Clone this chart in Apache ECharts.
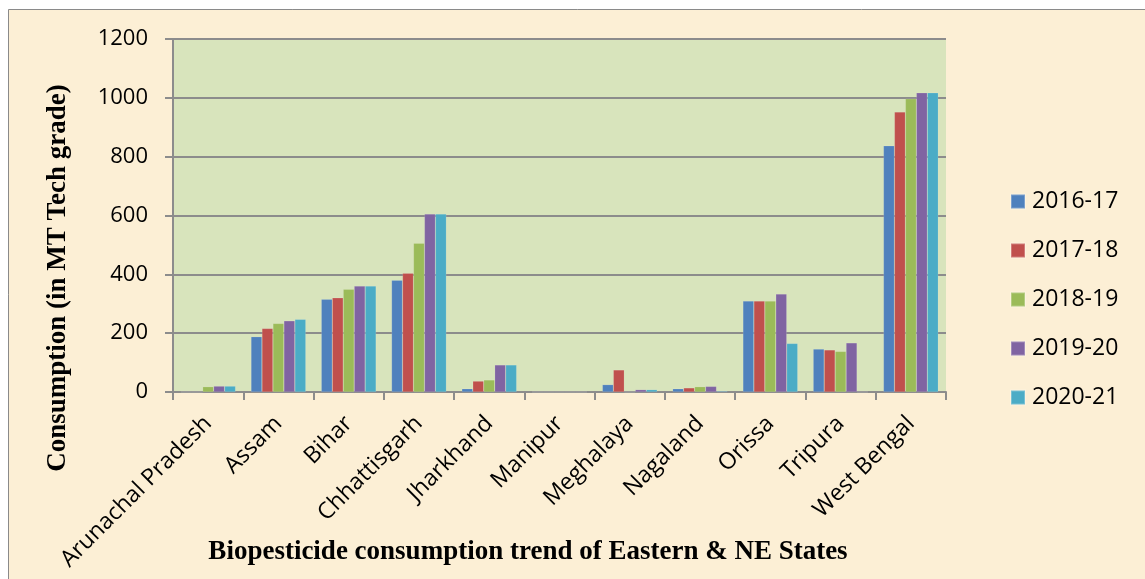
<!DOCTYPE html>
<html>
<head>
<meta charset="utf-8">
<script src="https://cdn.jsdelivr.net/npm/echarts@6/dist/echarts.min.js"></script>
<style>
  html, body { margin: 0; padding: 0; background: #ffffff; }
  #chart { width: 1145px; height: 579px; }
</style>
</head>
<body>
<div id="chart"></div>
<script>
// Biopesticide consumption (MT technical grade), Eastern & NE states
const states = ['Arunachal Pradesh', 'Assam', 'Bihar', 'Chhattisgarh', 'Jharkhand', 'Manipur',
                'Meghalaya', 'Nagaland', 'Orissa', 'Tripura', 'West Bengal'];
const years = ['2016-17', '2017-18', '2018-19', '2019-20', '2020-21'];
const y2016 = [0, 188, 315, 380, 11, 0, 25, 11, 309, 146, 837];
const y2017 = [0, 216, 320, 404, 37, 0, 75, 14, 309, 143, 952];
const y2018 = [18, 233, 349, 506, 41, 0, 0, 18, 309, 138, 997];
const y2019 = [20, 242, 360, 605, 92, 0, 8, 19, 333, 167, 1017];
const y2020 = [20, 247, 360, 605, 92, 0, 8, 3, 165, 0, 1017];
const yTicks = [0, 200, 400, 600, 800, 1000, 1200];

const seriesValues = [y2016, y2017, y2018, y2019, y2020];
const colors = ['#4f81bd', '#c0504d', '#9bbb59', '#8064a2', '#4bacc6'];
const sans = '"Open Sans", Lato, sans-serif';
const serif = '"Liberation Serif", "DejaVu Serif", serif';

const chart = echarts.init(document.getElementById('chart'), null, { renderer: 'canvas' });

chart.setOption({
  backgroundColor: '#ffffff',
  animation: false,
  color: colors,
  graphic: [
    {
      type: 'rect', z: -10, silent: true,
      shape: { x: 8.5, y: 9.5, width: 1140, height: 575 },
      style: { fill: '#fcefd5', stroke: '#8a8a8a', lineWidth: 1 }
    },
    {
      type: 'text', silent: true,
      style: {
        text: 'Biopesticide consumption trend of Eastern & NE States',
        x: 528, y: 552, align: 'center', verticalAlign: 'middle',
        font: 'bold 27px ' + serif, fill: '#000000'
      }
    },
    {
      // vertical axis title, rotated to read bottom-to-top
      type: 'text', silent: true,
      x: 58, y: 278, rotation: Math.PI / 2,
      style: {
        text: 'Consumption (in MT Tech grade)',
        x: 0, y: 0, align: 'center', verticalAlign: 'middle',
        font: 'bold 27px ' + serif, fill: '#000000'
      }
    }
  ],
  grid: {
    left: 173, right: 199, top: 39, bottom: 187,
    show: true, backgroundColor: '#d8e4bc', borderWidth: 0
  },
  legend: {
    orient: 'vertical',
    left: 1005, top: 185,
    itemWidth: 14, itemHeight: 14, itemGap: 26,
    icon: 'rect',
    textStyle: { fontFamily: sans, fontSize: 23, lineHeight: 22, color: '#000000', padding: [0, 0, 0, 2] },
    data: years
  },
  xAxis: {
    type: 'category',
    data: states,
    axisLine: { lineStyle: { color: '#8c8c8c', width: 2 } },
    axisTick: { show: true, length: 8, alignWithLabel: false, lineStyle: { color: '#8c8c8c', width: 2 } },
    axisLabel: {
      rotate: 45, interval: 0, margin: 28,
      fontFamily: sans, fontSize: 23, color: '#000000'
    }
  },
  yAxis: {
    type: 'value',
    min: yTicks[0], max: yTicks[yTicks.length - 1], interval: 200,
    axisLine: { show: true, lineStyle: { color: '#8c8c8c', width: 2 } },
    axisTick: { show: true, length: 8, lineStyle: { color: '#8c8c8c', width: 2 } },
    splitLine: { show: true, lineStyle: { color: '#8c8c8c', width: 2 } },
    axisLabel: {
      margin: 25,
      formatter: v => String(v),
      fontFamily: sans, fontSize: 22, color: '#000000'
    }
  },
  series: years.map((y, i) => ({
    name: y,
    type: 'bar',
    data: seriesValues[i],
    barGap: '0%',
    barCategoryGap: '22%',
    itemStyle: { color: colors[i], borderColor: 'rgba(255,255,255,0.25)', borderWidth: 0.5 }
  }))
});
</script>
</body>
</html>
